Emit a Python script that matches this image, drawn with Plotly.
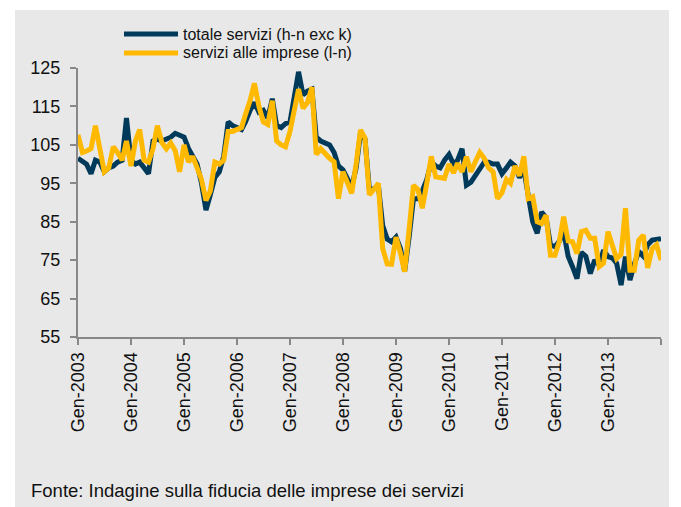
import pandas as pd
import plotly.graph_objects as go

# ---- data (monthly, Jan 2003 .. Jan 2014) ----
series_names = ["totale servizi (h-n exc k)", "servizi alle imprese (l-n)"]

totale_servizi = [
    101.5, 100.5, 100.0, 97.5, 101.0, 100.5, 98.0, 99.0, 99.5, 100.5, 101.0, 112.0,   # 2003
    101.0, 100.0, 100.5, 99.0, 97.5, 106.0, 106.5, 106.0, 106.5, 107.0, 108.0, 107.5,  # 2004
    107.0, 104.0, 102.0, 100.0, 95.0, 88.0, 92.0, 96.5, 98.0, 102.0, 111.0, 110.0,     # 2005
    109.5, 109.0, 111.0, 114.0, 116.0, 113.5, 114.0, 112.0, 117.0, 110.0, 109.5, 110.5, # 2006
    111.0, 118.0, 124.0, 118.0, 119.0, 119.5, 107.0, 106.0, 105.5, 105.0, 103.0, 99.5,  # 2007
    98.5, 96.0, 94.0, 99.0, 108.0, 106.5, 93.5, 93.5, 94.5, 84.0, 80.5, 79.8,           # 2008
    81.0, 78.0, 72.0, 81.0, 91.0, 91.0, 93.0, 96.0, 100.5, 99.5, 99.0, 101.0,           # 2009
    102.5, 100.0, 101.0, 104.0, 94.5, 95.3, 97.0, 98.5, 100.5, 100.5, 100.0, 100.0,     # 2010
    97.5, 99.0, 100.5, 99.5, 96.5, 98.5, 92.0, 85.0, 82.0, 87.5, 86.0, 79.0,            # 2011
    78.5, 80.0, 82.4, 76.0, 73.3, 70.2, 77.0, 76.0, 71.5, 75.0, 73.7, 77.6,             # 2012
    75.9, 75.5, 74.2, 68.5, 75.9, 69.8, 74.0, 77.2, 76.0, 79.0, 80.2, 80.5,             # 2013
    80.6,                                                                               # Jan 2014
]

servizi_imprese = [
    107.6, 103.0, 103.4, 104.0, 110.0, 104.0, 98.0, 99.0, 104.5, 103.0, 101.0, 106.0,  # 2003
    99.5, 106.0, 109.0, 101.0, 100.5, 104.0, 110.0, 105.6, 104.0, 105.5, 103.5, 98.0,   # 2004
    105.0, 100.5, 102.0, 99.0, 96.0, 90.5, 93.0, 100.5, 100.0, 101.0, 108.5, 108.5,     # 2005
    109.0, 109.5, 113.0, 116.5, 121.0, 115.0, 111.0, 110.3, 116.5, 106.0, 105.0, 104.5, # 2006
    108.5, 114.0, 119.5, 114.5, 116.0, 120.0, 102.5, 104.0, 102.5, 101.5, 100.6, 91.0,  # 2007
    98.0, 95.0, 92.4, 100.0, 108.9, 106.8, 92.0, 93.4, 95.0, 78.0, 74.0, 73.9,          # 2008
    81.0, 76.7, 72.0, 83.0, 94.5, 93.4, 88.5, 95.0, 102.0, 96.7, 96.5, 96.3,            # 2009
    100.0, 97.7, 100.2, 98.0, 101.9, 98.0, 100.6, 103.0, 101.5, 99.0, 98.0, 91.0,       # 2010
    92.5, 96.0, 95.0, 99.5, 97.0, 102.0, 91.0, 91.5, 85.0, 84.5, 86.7, 76.3,            # 2011
    76.3, 80.0, 86.3, 80.0, 79.8, 76.7, 82.4, 82.8, 80.7, 80.7, 73.3, 74.2,             # 2012
    82.4, 79.0, 75.4, 76.5, 88.5, 72.4, 72.4, 80.2, 81.5, 73.0, 78.0, 79.0,             # 2013
    75.0,                                                                               # Jan 2014
]

y_ticks = [55, 65, 75, 85, 95, 105, 115, 125]
x_tick_labels = ["Gen-2003", "Gen-2004", "Gen-2005", "Gen-2006", "Gen-2007", "Gen-2008",
                 "Gen-2009", "Gen-2010", "Gen-2011", "Gen-2012", "Gen-2013", ""]
source_text = "Fonte: Indagine sulla fiducia delle imprese dei servizi"

months = pd.date_range("2003-01-01", periods=len(totale_servizi), freq="MS")
x_tick_vals = pd.date_range("2003-01-01", "2014-01-01", freq="YS")

NAVY = "#003a5a"
GOLD = "#ffb900"
FONT = "Liberation Sans, Arial, sans-serif"

fig = go.Figure()
fig.add_trace(go.Scatter(x=months, y=totale_servizi, mode="lines", name=series_names[0],
                         line=dict(color=NAVY, width=5)))
fig.add_trace(go.Scatter(x=months, y=servizi_imprese, mode="lines", name=series_names[1],
                         line=dict(color=GOLD, width=5)))

# page body has an 8px margin: figure origin sits at (8, 8) of the window
OFF = 8
W, H = 681 - OFF, 507 - OFF
PL, PR, PT, PB = 78, 661, 68, 337          # plot box in window pixels
L, T = PL - OFF, PT - OFF
R, B = W - (PR - OFF), H - (PB - OFF)
pw, ph = PR - PL, PB - PT

def px(x):
    return (x - PL) / pw

def py(y):
    return (PB - y) / ph

shapes = [
    dict(type="rect", xref="paper", yref="paper", x0=px(15), x1=px(669), y0=py(10), y1=py(520),
         fillcolor="#e8e8e8", line=dict(width=0), layer="below"),
]
annotations = []
for i, (name, col) in enumerate(zip(series_names, [NAVY, GOLD])):
    yy = [34, 53][i]
    shapes.append(dict(type="line", xref="paper", yref="paper", x0=px(124), x1=px(178),
                       y0=py(yy), y1=py(yy), line=dict(color=col, width=5)))
    annotations.append(dict(xref="paper", yref="paper", x=px(181), y=py(yy), text=name,
                            showarrow=False, xanchor="left", yanchor="middle",
                            font=dict(family=FONT, size=16, color="#111")))
annotations.append(dict(xref="paper", yref="paper", x=px(29), y=py(490), text=source_text,
                        showarrow=False, xanchor="left", yanchor="middle",
                        font=dict(family=FONT, size=18.5, color="#111")))

fig.update_layout(
    width=W, height=H,
    margin=dict(l=L, r=R, t=T, b=B, pad=0),
    paper_bgcolor="white",
    plot_bgcolor="rgba(0,0,0,0)",
    showlegend=False,
    shapes=shapes,
    annotations=annotations,
    font=dict(family=FONT, size=18, color="#111"),
)
fig.update_xaxes(
    range=["2003-01-01", "2014-01-01"],
    tickmode="array", tickvals=x_tick_vals, ticktext=x_tick_labels,
    tickangle=-90, ticks="outside", ticklen=6, tickwidth=1.5, tickcolor="#888",
    showline=True, linecolor="#888", linewidth=2, showgrid=False, zeroline=False,
    tickfont=dict(family=FONT, size=18, color="#111"),
)
fig.update_yaxes(
    range=[55, 125], tickmode="array", tickvals=y_ticks,
    ticks="outside", ticklen=6, tickwidth=1.5, tickcolor="#888",
    showline=True, linecolor="#888", linewidth=2, showgrid=False, zeroline=False,
    ticklabelstandoff=6,
    tickfont=dict(family=FONT, size=18, color="#111"),
)

fig.write_html("out.html")
